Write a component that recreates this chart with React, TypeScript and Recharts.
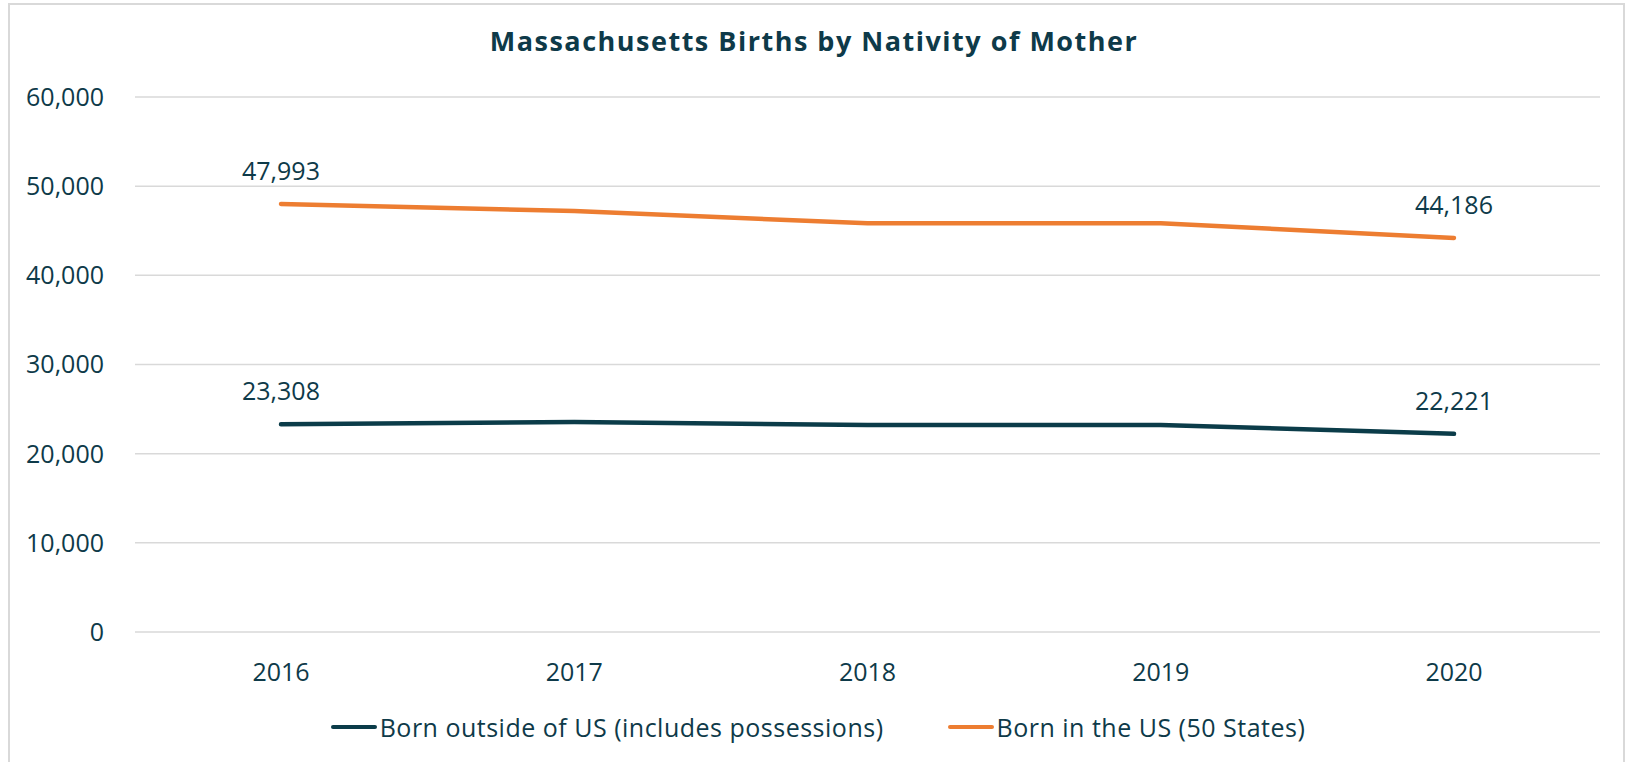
import React from 'react'
import { LineChart, Line, XAxis, YAxis, CartesianGrid, Legend, LabelList } from 'recharts'

const years = ['2016', '2017', '2018', '2019', '2020']
const bornOutsideUS = [23308, 23550, 23220, 23220, 22221]
const bornInUS = [47993, 47210, 45830, 45850, 44186]
const yTicks = [0, 10000, 20000, 30000, 40000, 50000, 60000]

const seriesNames = {
  outside: 'Born outside of US (includes possessions)',
  inside: 'Born in the US (50 States)',
}

const TEXT = '#0E3A49'
const DARK = '#0B3C49'
const ORANGE = '#ED7D31'
const GRID = '#D9D9D9'
const FONT = '"Open Sans", "Noto Sans", sans-serif'

const data = years.map((year, i) => ({
  year,
  outside: bornOutsideUS[i],
  inside: bornInUS[i],
}))

const fmt = (v: number) => v.toLocaleString('en-US')

// only first and last points get a label
// eslint-disable-next-line @typescript-eslint/no-explicit-any
const EndLabel = (props: any) => {
  const { x, y, value, index } = props
  if (index !== 0 && index !== years.length - 1) return null
  return (
    <text x={x} y={y - 24} textAnchor="middle" fill={TEXT} fontSize={25} fontFamily={FONT}>
      {fmt(value)}
    </text>
  )
}

const LegendContent = () => (
  <div
    style={{
      height: 70,
      display: 'flex',
      alignItems: 'center',
      justifyContent: 'center',
      gap: 64,
      fontFamily: FONT,
      fontSize: 25,
      letterSpacing: '0.5px',
      color: TEXT,
      paddingLeft: 36,
    }}
  >
    {[
      { name: seriesNames.outside, color: DARK },
      { name: seriesNames.inside, color: ORANGE },
    ].map((item) => (
      <div key={item.name} style={{ display: 'flex', alignItems: 'center' }}>
        <div style={{ width: 46, height: 4, borderRadius: 2, background: item.color, marginRight: 3 }} />
        <span>{item.name}</span>
      </div>
    ))}
  </div>
)

export default function App() {
  return (
    <div style={{ position: 'absolute', left: 0, top: 0, width: 1628, height: 762, background: '#fff', overflow: 'hidden' }}>
      <div
        style={{
          position: 'absolute',
          left: 8,
          top: 3,
          width: 1613,
          height: 800,
          border: `2px solid ${GRID}`,
        }}
      />
      <div
        style={{
          position: 'absolute',
          left: 0,
          top: 25,
          width: 1628,
          textAlign: 'center',
          fontFamily: FONT,
          fontWeight: 700,
          fontSize: 27,
          letterSpacing: '1.5px',
          lineHeight: '32px',
          color: TEXT,
        }}
      >
        Massachusetts Births by Nativity of Mother
      </div>
      <div style={{ position: 'absolute', left: 0, top: 0 }}>
        <LineChart width={1628} height={762} data={data} margin={{ top: 97, right: 28, bottom: 0, left: 0 }}>
          <CartesianGrid vertical={false} stroke={GRID} strokeWidth={1.5} />
          <XAxis
            dataKey="year"
            height={60}
            padding={{ left: 146, right: 146 }}
            axisLine={false}
            tickLine={false}
            tickSize={0}
            tickMargin={31}
            tick={{ fill: TEXT, fontSize: 25, fontFamily: FONT }}
          />
          <YAxis
            width={135}
            domain={[0, 60000]}
            ticks={yTicks}
            axisLine={false}
            tickLine={false}
            tickSize={0}
            tickMargin={31}
            tickFormatter={fmt}
            tick={{ fill: TEXT, fontSize: 25, fontFamily: FONT }}
          />
          <Legend verticalAlign="bottom" content={<LegendContent />} />
          <Line
            type="linear"
            dataKey="outside"
            name={seriesNames.outside}
            stroke={DARK}
            strokeWidth={4.5}
            strokeLinecap="round"
            dot={false}
            isAnimationActive={false}
          >
            <LabelList dataKey="outside" content={<EndLabel />} />
          </Line>
          <Line
            type="linear"
            dataKey="inside"
            name={seriesNames.inside}
            stroke={ORANGE}
            strokeWidth={4.5}
            strokeLinecap="round"
            dot={false}
            isAnimationActive={false}
          >
            <LabelList dataKey="inside" content={<EndLabel />} />
          </Line>
        </LineChart>
      </div>
    </div>
  )
}
